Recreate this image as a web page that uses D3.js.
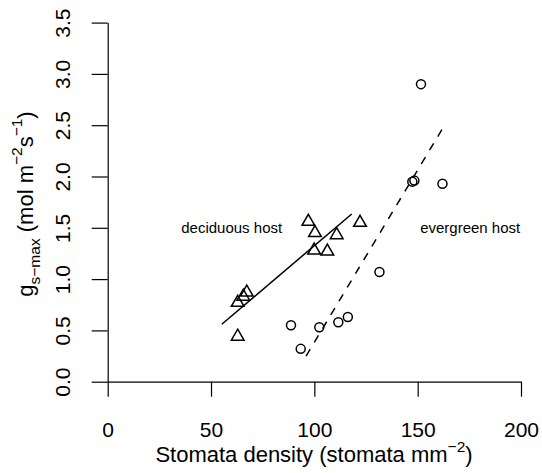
<!DOCTYPE html>
<html>
<head>
<meta charset="utf-8">
<script src="https://cdn.jsdelivr.net/npm/d3@7"></script>
<style>
  body { margin: 0; background: #fff; }
  svg { display: block; font-family: "Liberation Sans", Arial, sans-serif; }
</style>
</head>
<body>
<svg id="chart" width="542" height="473"></svg>
<script>
// deciduous host (triangles)
var decidX = [97.1, 100.3, 110.8, 122.1, 99.9, 106.3, 67.3, 65.6, 62.9, 62.9];
var decidY = [1.56, 1.45, 1.43, 1.55, 1.28, 1.27, 0.87, 0.83, 0.77, 0.44];
// evergreen host (circles)
var everX = [88.7, 93.4, 102.4, 111.6, 116.2, 131.5, 147.4, 148.4, 151.6, 162.0];
var everY = [0.55, 0.32, 0.53, 0.58, 0.63, 1.07, 1.95, 1.96, 2.90, 1.93];
// fitted lines, end points
var decidFitX = [55.2, 118.1];
var decidFitY = [0.56, 1.635];
var everFitX = [96, 163.6];
var everFitY = [0.25, 2.52];

var xTicks = [0, 50, 100, 150, 200];
var yTicks = [0, 0.5, 1, 1.5, 2, 2.5, 3, 3.5];

var svg = d3.select("#chart");
var x = d3.scaleLinear().domain([0, 200]).range([107.7, 521]);
var y = d3.scaleLinear().domain([0, 3.5]).range([381.7, 22.6]);

var xAxis = svg.append("g")
    .attr("transform", "translate(0," + y(0) + ")")
    .call(d3.axisBottom(x).tickValues(xTicks).tickSize(15).tickSizeOuter(0).tickPadding(25));
xAxis.selectAll("text").attr("font-size", 21).attr("font-family", null).attr("fill", "#000");

var yAxis = svg.append("g")
    .attr("transform", "translate(" + x(0) + ",0)")
    .call(d3.axisLeft(y).tickValues(yTicks).tickSize(16).tickSizeOuter(0).tickFormat(d3.format(".1f")));
yAxis.selectAll("text")
    .attr("x", null).attr("dy", null)
    .attr("text-anchor", "middle")
    .attr("transform", "translate(-37.5,0) rotate(-90)")
    .attr("font-size", 21).attr("font-family", null).attr("fill", "#000");

svg.selectAll(".domain, .tick line").attr("stroke", "#000").attr("stroke-width", 1.2);

// axis titles
svg.append("text")
    .attr("x", 314).attr("y", 462)
    .attr("text-anchor", "middle")
    .attr("font-size", 22)
    .html('Stomata density (stomata mm<tspan font-size="15.5" dy="-10">\u22122</tspan><tspan dy="10">)</tspan>');

svg.append("text")
    .attr("transform", "translate(33,204) rotate(-90)")
    .attr("text-anchor", "middle")
    .attr("font-size", 22)
    .html('g<tspan font-size="15.5" dy="7">s\u2212max</tspan><tspan dy="-7"> (mol m</tspan>' +
          '<tspan font-size="15.5" dy="-11">\u22122</tspan><tspan dy="11">s</tspan>' +
          '<tspan font-size="15.5" dy="-11">\u22121</tspan><tspan dy="11">)</tspan>');

// regression lines
var line = d3.line().x(d => x(d[0])).y(d => y(d[1]));
svg.append("path")
    .datum(d3.zip(decidFitX, decidFitY))
    .attr("d", line)
    .attr("fill", "none").attr("stroke", "#000").attr("stroke-width", 1.5);
svg.append("path")
    .datum(d3.zip(everFitX, everFitY))
    .attr("d", line)
    .attr("fill", "none").attr("stroke", "#000").attr("stroke-width", 1.5)
    .attr("stroke-dasharray", "8,8");

// points
var tri = d3.symbol().type(d3.symbolTriangle).size(70);
svg.selectAll(".tri")
    .data(d3.zip(decidX, decidY))
    .enter().append("path")
    .attr("class", "tri")
    .attr("d", tri)
    .attr("transform", d => "translate(" + x(d[0]) + "," + y(d[1]) + ")")
    .attr("fill", "none").attr("stroke", "#000").attr("stroke-width", 1.5);

svg.selectAll(".circ")
    .data(d3.zip(everX, everY))
    .enter().append("circle")
    .attr("class", "circ")
    .attr("cx", d => x(d[0])).attr("cy", d => y(d[1]))
    .attr("r", 4.5)
    .attr("fill", "none").attr("stroke", "#000").attr("stroke-width", 1.5);

// group labels
svg.append("text").attr("x", x(60)).attr("y", y(1.5) + 5.5)
    .attr("text-anchor", "middle").attr("font-size", 15).text("deciduous host");
svg.append("text").attr("x", x(175.4)).attr("y", y(1.5) + 5.5)
    .attr("text-anchor", "middle").attr("font-size", 15).text("evergreen host");
</script>
</body>
</html>
